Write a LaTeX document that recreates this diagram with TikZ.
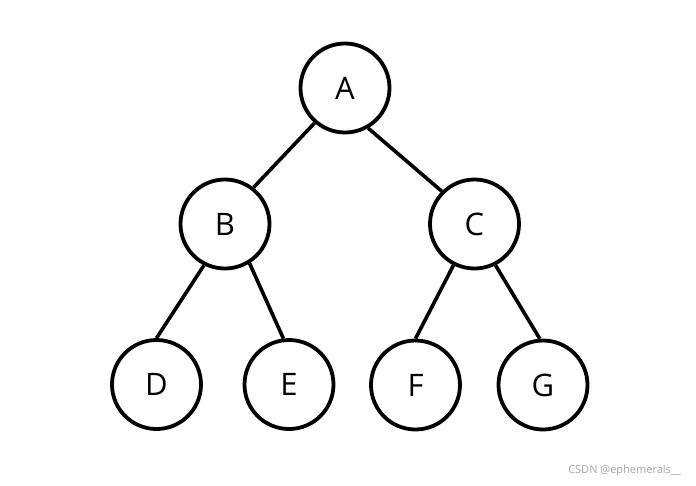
\documentclass[tikz,border=0pt]{standalone}
\usepackage{fontspec}
\setmainfont{Open Sans}
\begin{document}
\begin{tikzpicture}[x=1pt,y=-1pt,
  treenode/.style={circle,draw=black,line width=3.8pt,minimum size=89pt,inner sep=0pt,
    font=\fontsize{31}{33}\selectfont},
  edge/.style={line width=3.6pt,line cap=butt}]
\useasboundingbox[fill=white] (0,0) rectangle (696,485);
\node[treenode] (A) at (345,88) {A};
\node[treenode] (B) at (225,224) {B};
\node[treenode] (C) at (474.5,224) {C};
\node[treenode] (D) at (156.5,384.5) {D};
\node[treenode] (E) at (289,384.5) {E};
\node[treenode] (F) at (415.5,385) {F};
\node[treenode] (G) at (543,385) {G};
\draw[edge] (A.-131) -- (B.52);
\draw[edge] (A.-60) -- (C.135);
\draw[edge] (B.243) -- (D.90);
\draw[edge] (B.-58) -- (E.97);
\draw[edge] (C.243) -- (F.90);
\draw[edge] (C.-63) -- (G.94);
\node[font=\fontsize{11}{13}\selectfont,text=black!35,anchor=east,inner sep=0pt] (wm) at (681,471) {CSDN @ephemerals\_\_};
\end{tikzpicture}
\end{document}
